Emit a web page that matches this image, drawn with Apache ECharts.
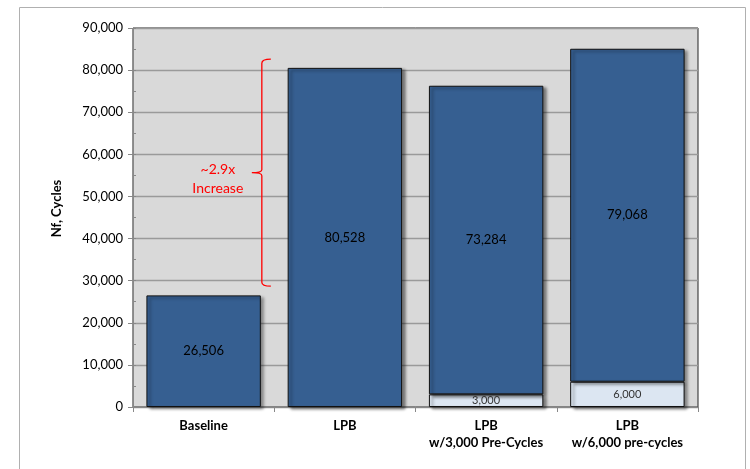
<!DOCTYPE html>
<html>
<head>
<meta charset="utf-8">
<script src="https://cdn.jsdelivr.net/npm/echarts@6/dist/echarts.min.js"></script>
<style>
  html, body { margin: 0; padding: 0; background: #fff; }
  #chart { width: 750px; height: 469px; }
</style>
</head>
<body>
<div id="chart"></div>
<script>
var categories = ['Baseline', 'LPB', 'LPB\nw/3,000 Pre-Cycles', 'LPB\nw/6,000 pre-cycles'];
var preCycles = [null, null, 3000, 6000];
var cyclesToFailure = [26506, 80528, 73284, 79068];
// bracket for the "~2.9x Increase" note: [category, low, high]
var bracket = [[0, 28700, 82600]];
var bracketText = '~2.9x\nIncrease';

var chart = echarts.init(document.getElementById('chart'));
var font = 'Lato, "Open Sans", sans-serif';
var barShadow = {
  shadowColor: 'rgba(0,0,0,0.45)',
  shadowBlur: 3,
  shadowOffsetX: 3,
  shadowOffsetY: 2
};

chart.setOption({
  animation: false,
  textStyle: { fontFamily: font },
  graphic: [{
    type: 'rect',
    shape: { x: 19.5, y: 7.5, width: 726, height: 480 },
    style: { fill: 'none', stroke: '#b0b0b0', lineWidth: 1 },
    z: -1
  }],
  grid: {
    left: 133, right: 52, top: 28, bottom: 62,
    show: true,
    backgroundColor: '#d9d9d9',
    borderColor: '#222',
    borderWidth: 1
  },
  xAxis: {
    type: 'category',
    data: categories,
    axisLine: { lineStyle: { color: '#888', width: 1 } },
    axisTick: { show: true, length: 5, lineStyle: { color: '#888' } },
    axisLabel: {
      interval: 0,
      color: '#000', fontWeight: 'bold', fontSize: 13, margin: 10,
      lineHeight: 17, fontFamily: font
    }
  },
  yAxis: [{
    type: 'value',
    min: 0, max: 90000, interval: 10000,
    name: 'Nf, Cycles',
    nameLocation: 'middle',
    nameGap: 70,
    nameTextStyle: {
      fontFamily: font,
      fontWeight: 'bold', fontSize: 13, color: '#000',
      padding: [0, 0, 0, 18]
    },
    axisLine: { show: true, lineStyle: { color: '#888' } },
    axisTick: { show: true, length: 5, lineStyle: { color: '#888' } },
    axisLabel: {
      color: '#000', fontSize: 13, margin: 10, fontFamily: font,
      formatter: function (v) { return v.toLocaleString('en-US'); }
    },
    splitLine: { lineStyle: { color: '#9a9a9a', width: 1.3 } }
  }, {
    type: 'value',
    position: 'left',
    min: 0, max: 90000, interval: 5000,
    axisLine: { show: false },
    axisTick: { show: true, inside: true, length: 3, lineStyle: { color: '#888' } },
    axisLabel: { show: false },
    splitLine: { show: false }
  }],
  series: [{
    name: 'Pre-cycles',
    type: 'bar',
    stack: 'nf',
    barCategoryGap: '19%',
    data: preCycles,
    itemStyle: Object.assign({ color: '#dce6f2', borderColor: '#111', borderWidth: 1 }, barShadow),
    label: {
      show: true, position: 'inside', color: '#333', fontSize: 11, fontFamily: font,
      formatter: function (p) { return p.value.toLocaleString('en-US'); }
    }
  }, {
    name: 'Nf',
    type: 'bar',
    stack: 'nf',
    barCategoryGap: '19%',
    data: cyclesToFailure,
    itemStyle: Object.assign({ color: '#365f91', borderColor: '#111', borderWidth: 1 }, barShadow),
    label: {
      show: true, position: 'inside', color: '#000', fontSize: 13, fontFamily: font,
      formatter: function (p) { return p.value.toLocaleString('en-US'); }
    }
  }, {
    type: 'custom',
    data: bracket,
    z: 10,
    renderItem: function (params, api) {
      var low = api.coord([api.value(0), api.value(1)]);
      var high = api.coord([api.value(0), api.value(2)]);
      var bw = api.size([1, 0])[0] * 0.81;
      var x = low[0] + bw / 2 + 1;
      var yTop = high[1], yBot = low[1], yMid = (yTop + yBot) / 2;
      var path = 'M' + (x + 9) + ' ' + yTop +
        ' Q' + x + ' ' + yTop + ' ' + x + ' ' + (yTop + 4) +
        ' L' + x + ' ' + (yMid - 3) +
        ' Q' + x + ' ' + yMid + ' ' + (x - 10) + ' ' + yMid +
        ' Q' + x + ' ' + yMid + ' ' + x + ' ' + (yMid + 3) +
        ' L' + x + ' ' + (yBot - 4) +
        ' Q' + x + ' ' + yBot + ' ' + (x + 9) + ' ' + yBot;
      return {
        type: 'group',
        children: [{
          type: 'path',
          shape: { pathData: path },
          style: { fill: 'none', stroke: '#ff0000', lineWidth: 1.3 }
        }, {
          type: 'text',
          x: x - 44, y: yMid + 6,
          style: {
            text: bracketText, fill: '#ff0000', fontSize: 14, fontFamily: font,
            align: 'center', verticalAlign: 'middle', lineHeight: 19
          }
        }]
      };
    }
  }]
});
</script>
</body>
</html>
